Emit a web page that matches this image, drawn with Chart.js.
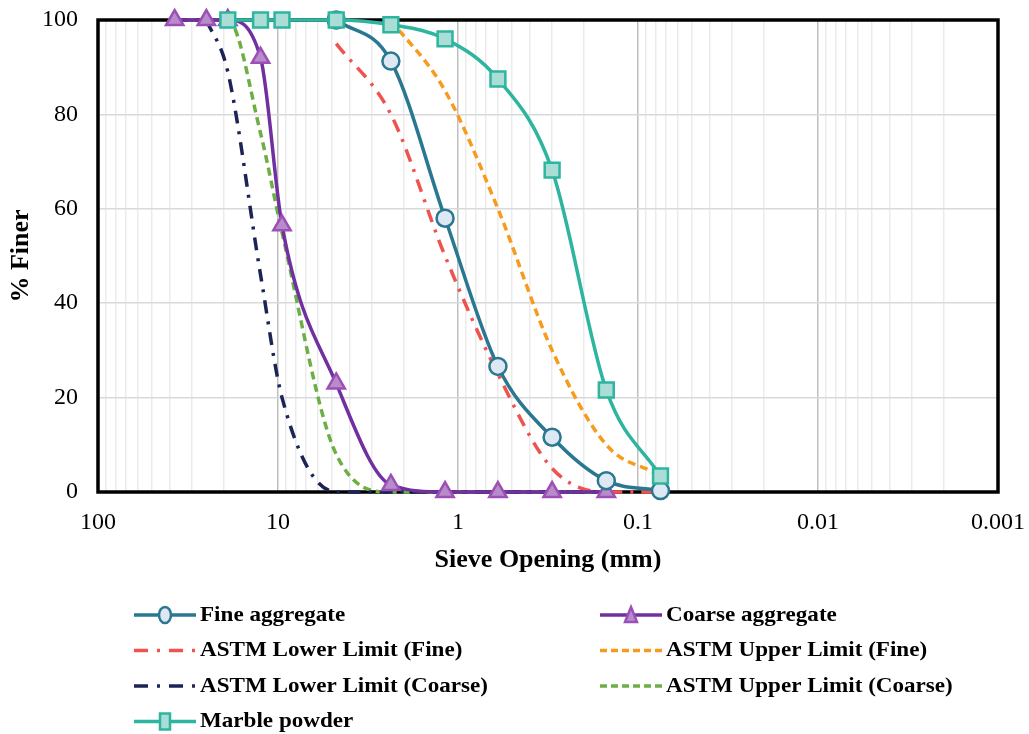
<!DOCTYPE html>
<html>
<head>
<meta charset="utf-8">
<script src="https://cdn.jsdelivr.net/npm/chart.js@4.4.1/dist/chart.umd.min.js"></script>
<style>
  body { margin: 0; background: #fff; }
  canvas { display: block; }
</style>
</head>
<body>
<canvas id="gradation" width="1029" height="734"></canvas>
<script>
// sieve sizes (mm)
const sieves = [37.5, 25, 19, 12.5, 9.5, 4.75, 2.36, 1.18, 0.6, 0.3, 0.15, 0.075];

// % finer for each sieve, null where the series has no point
const fineAggregate   = [null, null, null, null, null, 100, 91.3, 58, 26.6, 11.6, 2.4, 0.3];
const coarseAggregate = [100, 100, 100, 92, 56.5, 23, 1.5, 0, 0, 0, 0, null];
const lowerFine       = [null, null, null, null, null, 95, 80, 50, 25, 5, 0, 0];
const upperFine       = [null, null, null, null, null, null, 100, 85, 60, 30, 10, 3.6];
const lowerCoarse     = [null, 100, 89, 46, 20, 0, 0, 0, 0, 0, 0, null];
const upperCoarse     = [100, 100, 100, 76, 55, 8, 0, 0, 0, 0, 0, null];
const marblePowder    = [null, null, 100, 100, 100, 100, 99, 96, 87.5, 68.2, 21.6, 3.4];

const xTickLabels = ['100', '10', '1', '0.1', '0.01', '0.001'];
const yTicks = [0, 20, 40, 60, 80, 100];

const FONT = "'Liberation Serif', 'Times New Roman', serif";

function toPoints(values) {
  return sieves.map((s, i) => ({ x: s, y: values[i] })).filter(p => p.y !== null);
}

function isDecade(v) {
  const l = Math.log10(v);
  return Math.abs(l - Math.round(l)) < 1e-9;
}

const series = [
  { label: 'Fine aggregate', data: fineAggregate, color: '#2a7791', dash: [],
    point: 'circle', radius: 8.5, fill: '#dee8f3', order: 2 },
  { label: 'Coarse aggregate', data: coarseAggregate, color: '#7030a0', dash: [],
    point: 'triangle', radius: 10, fill: '#b88bcb', pointBorder: '#9c50b6', order: 3 },
  { label: 'ASTM Lower Limit (Fine)', data: lowerFine, color: '#ef5350', dash: [13, 8, 3, 8], order: 4 },
  { label: 'ASTM Upper Limit (Fine)', data: upperFine, color: '#f79b1e', dash: [8, 5], order: 5 },
  { label: 'ASTM Lower Limit (Coarse)', data: lowerCoarse, color: '#1c2456', dash: [13, 8, 3, 8], order: 6 },
  { label: 'ASTM Upper Limit (Coarse)', data: upperCoarse, color: '#6dae45', dash: [8, 5], order: 7 },
  { label: 'Marble powder', data: marblePowder, color: '#2eb5a0', dash: [],
    point: 'rect', radius: 10.5, fill: '#a9ddd6', order: 1 }
];

const datasets = series.map(s => ({
  label: s.label,
  data: toPoints(s.data),
  borderColor: s.color,
  borderWidth: 3.5,
  borderDash: s.dash,
  cubicInterpolationMode: 'monotone',
  pointStyle: s.point || 'circle',
  pointRadius: s.point ? s.radius : 0,
  pointHoverRadius: s.point ? s.radius : 0,
  pointBackgroundColor: s.fill,
  pointBorderColor: s.pointBorder || s.color,
  pointBorderWidth: 2.5,
  order: s.order,
  clip: false
}));

// black frame around the plot area, under the data
const framePlugin = {
  id: 'frame',
  beforeDatasetsDraw(chart) {
    const a = chart.chartArea;
    const ctx = chart.ctx;
    ctx.save();
    ctx.strokeStyle = '#000';
    ctx.lineWidth = 3.5;
    ctx.strokeRect(a.left, a.top, a.right - a.left, a.bottom - a.top);
    ctx.restore();
  }
};

// two column legend below the axis title
const legendPlugin = {
  id: 'twoColLegend',
  afterDraw(chart) {
    const ctx = chart.ctx;
    const a = chart.chartArea;
    const colX = [a.left + 36, a.left + 502];
    const rowY = a.bottom + 123;
    const rowH = 35.5;
    ctx.save();
    ctx.font = 'bold 22px ' + FONT;
    ctx.textBaseline = 'middle';
    series.forEach((s, i) => {
      const x = colX[i % 2];
      const y = rowY + Math.floor(i / 2) * rowH;
      ctx.strokeStyle = s.color;
      ctx.lineWidth = 3.5;
      ctx.setLineDash(s.dash.length ? (s.dash.length > 2 ? [14, 9, 3, 9] : [7, 4]) : []);
      ctx.beginPath();
      ctx.moveTo(x, y);
      ctx.lineTo(x + 62, y);
      ctx.stroke();
      ctx.setLineDash([]);
      if (s.point) {
        ctx.fillStyle = s.fill;
        ctx.strokeStyle = s.pointBorder || s.color;
        ctx.lineWidth = 2.5;
        const cx = x + 31;
        ctx.beginPath();
        if (s.point === 'circle') {
          ctx.ellipse(cx, y, 6, 8, 0, 0, Math.PI * 2);
        } else if (s.point === 'triangle') {
          ctx.moveTo(cx, y - 8);
          ctx.lineTo(cx + 6, y + 7);
          ctx.lineTo(cx - 6, y + 7);
          ctx.closePath();
        } else {
          ctx.rect(cx - 5, y - 8, 10, 16);
        }
        ctx.fill();
        ctx.stroke();
      }
      // reference text is a little wider than the font, stretch it horizontally
      ctx.save();
      ctx.translate(x + 66, y);
      ctx.scale(1.05, 1);
      ctx.fillStyle = '#000';
      ctx.fillText(s.label, 0, 0);
      ctx.restore();
    });
    ctx.restore();
  }
};

new Chart(document.getElementById('gradation'), {
  type: 'line',
  data: { datasets: datasets },
  options: {
    responsive: false,
    animation: false,
    layout: { padding: { left: 0, right: 31, top: 20, bottom: 158 } },
    plugins: {
      legend: { display: false },
      tooltip: { enabled: false }
    },
    scales: {
      x: {
        type: 'logarithmic',
        reverse: true,
        min: 0.001,
        max: 100,
        afterBuildTicks(scale) {
          const ticks = [];
          for (let k = -3; k <= 1; k++) {
            for (let m = 1; m <= 9; m++) ticks.push({ value: m * Math.pow(10, k) });
          }
          ticks.push({ value: 100 });
          scale.ticks = ticks;
        },
        afterFit(scale) {
          scale.height = 84;
          scale.paddingLeft = 0;
          scale.paddingRight = 0;
        },
        border: { display: false },
        grid: {
          drawTicks: false,
          lineWidth: 1.5,
          color: ctx => (ctx.tick && isDecade(ctx.tick.value)) ? '#bfbfbf' : '#ebebeb'
        },
        ticks: {
          autoSkip: false,
          maxRotation: 0,
          padding: 16,
          color: '#000',
          font: { family: FONT, size: 24 },
          callback(value) {
            if (!isDecade(value)) return '';
            const idx = 2 - Math.round(Math.log10(value));
            return xTickLabels[idx];
          }
        },
        title: {
          display: true,
          text: 'Sieve Opening (mm)',
          color: '#000',
          font: { family: FONT, size: 26, weight: 'bold' },
          padding: { top: 0, bottom: 0 }
        }
      },
      y: {
        min: 0,
        max: 100,
        afterBuildTicks(scale) {
          scale.ticks = yTicks.map(v => ({ value: v }));
        },
        afterFit(scale) {
          scale.width = 98;
          scale.paddingTop = 0;
          scale.paddingBottom = 0;
        },
        border: { display: false },
        grid: { drawTicks: false, color: '#d9d9d9', lineWidth: 1.5 },
        ticks: {
          padding: 20,
          color: '#000',
          font: { family: FONT, size: 24 }
        },
        title: {
          display: true,
          text: '% Finer',
          color: '#000',
          font: { family: FONT, size: 26, weight: 'bold' },
          padding: { top: 6, bottom: 0 }
        }
      }
    }
  },
  plugins: [framePlugin, legendPlugin]
});
</script>
</body>
</html>
